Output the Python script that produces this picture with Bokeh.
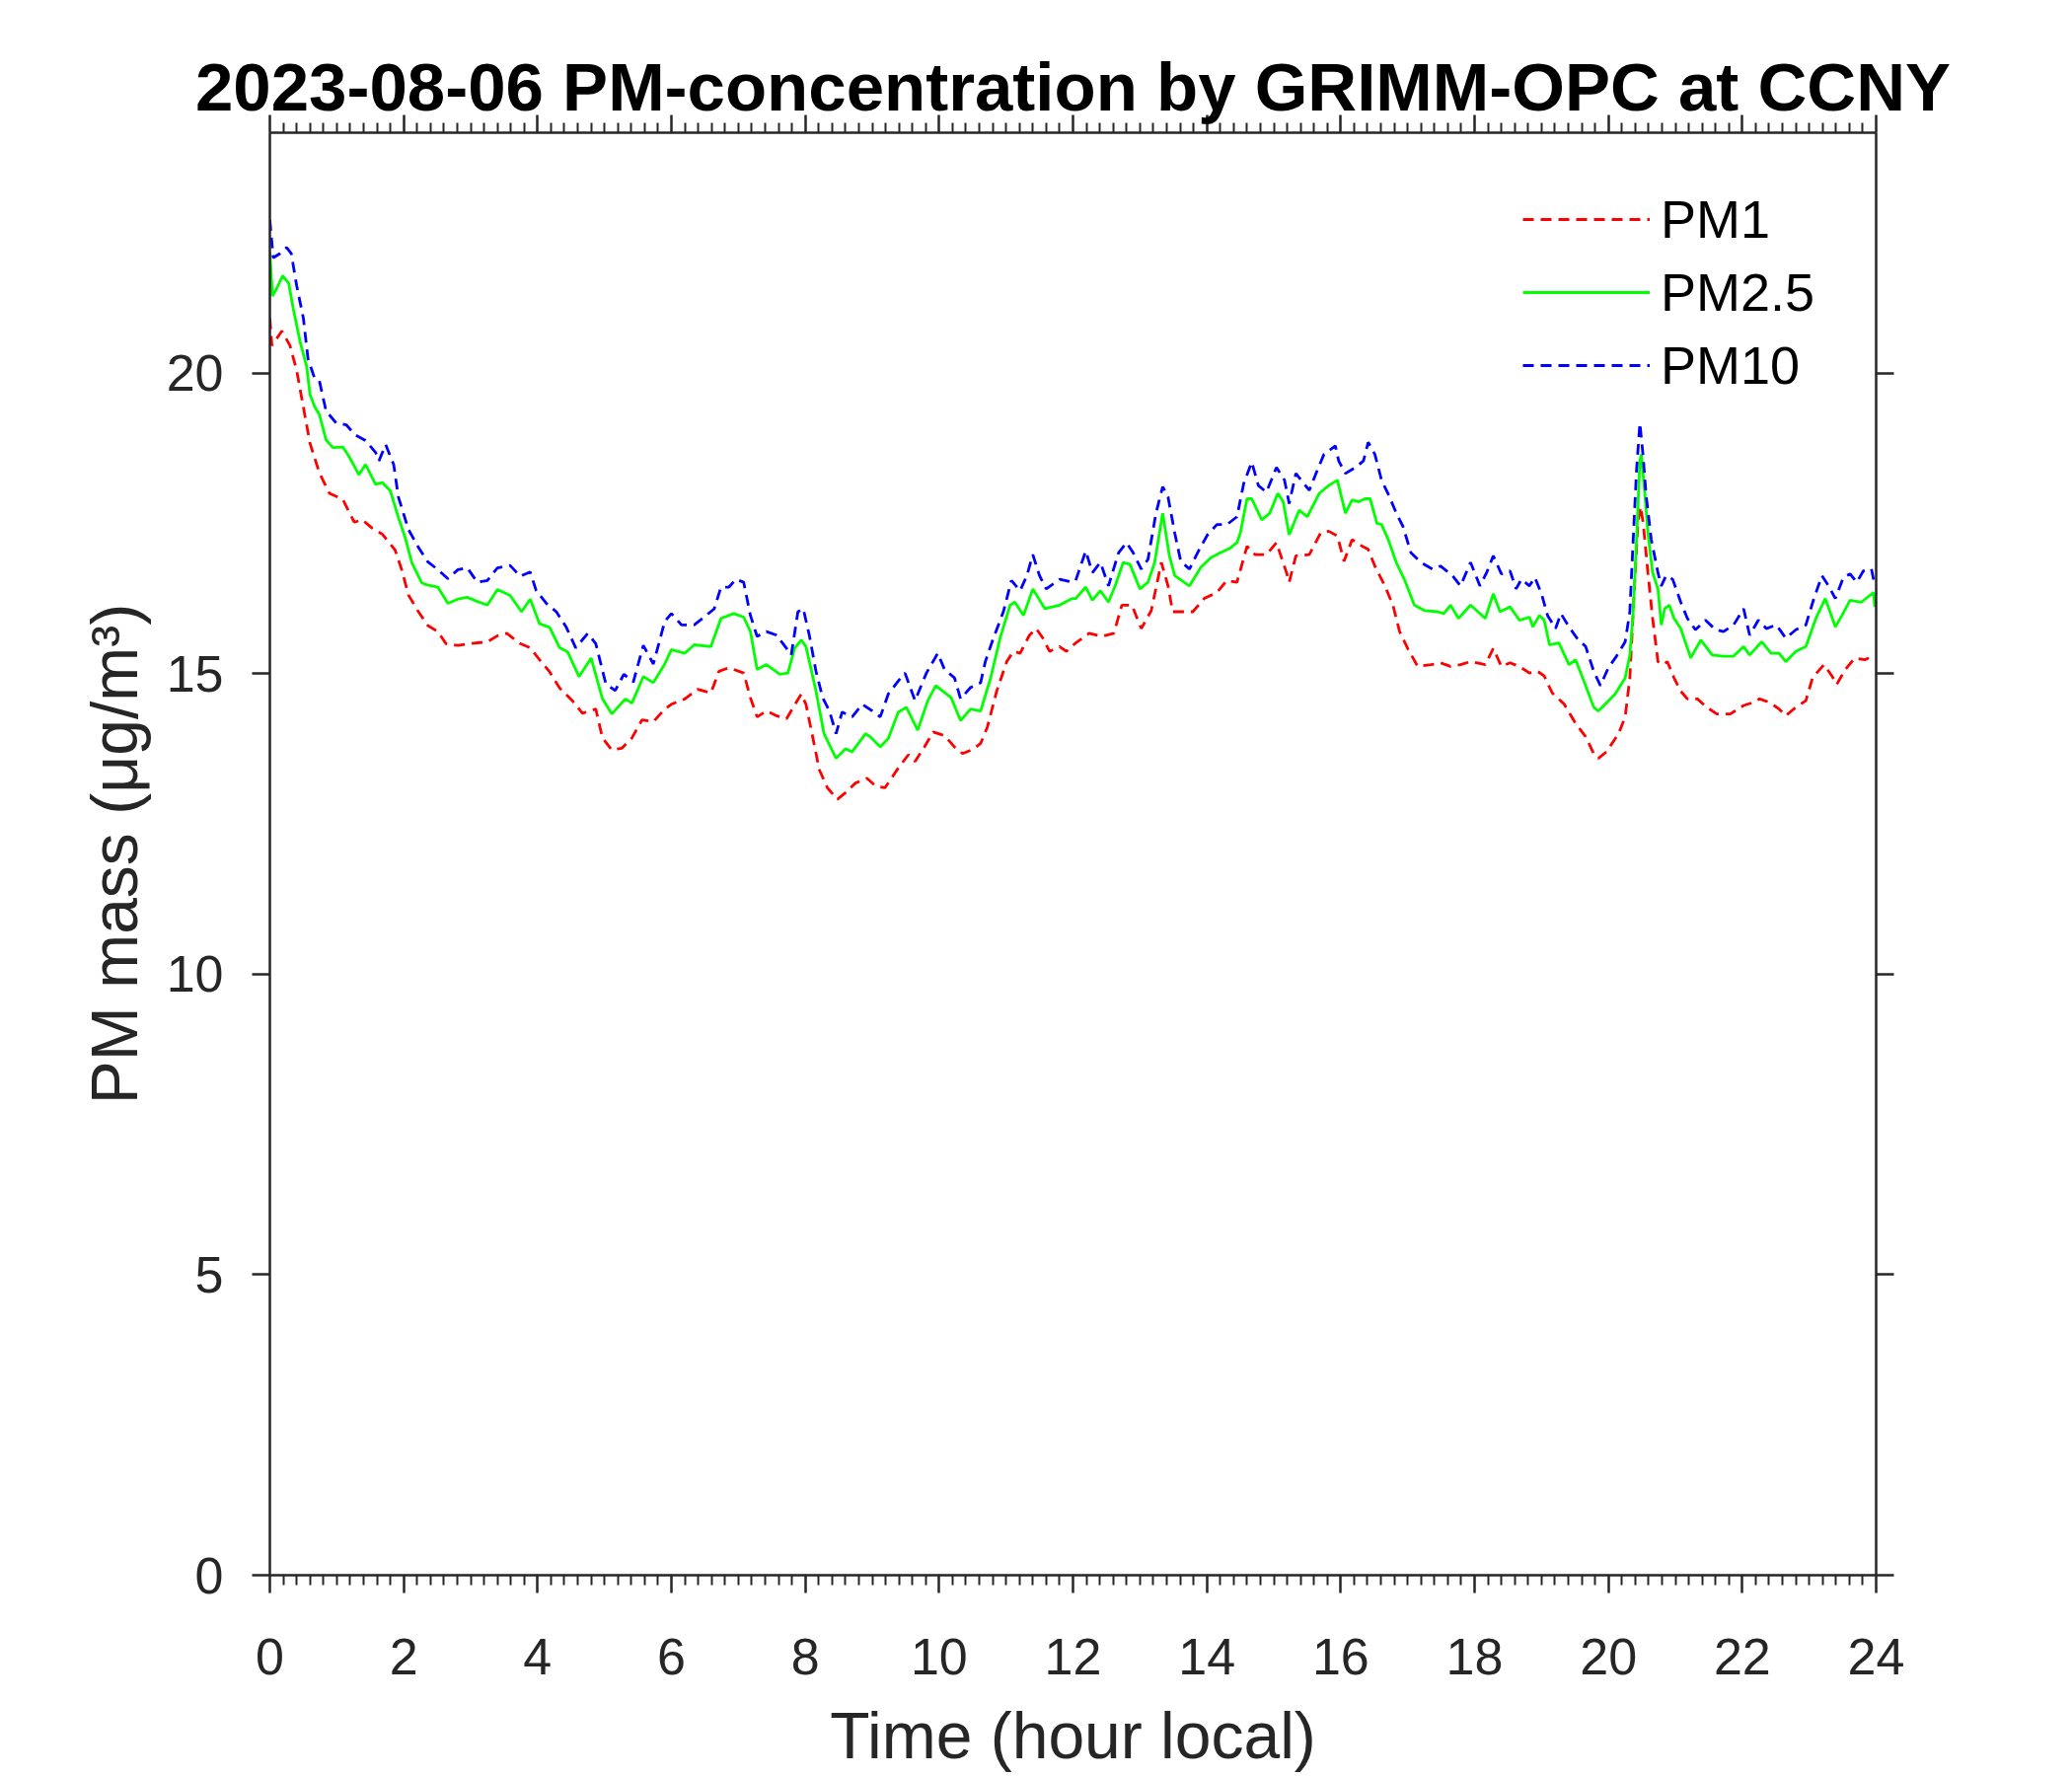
from bokeh.plotting import figure
from bokeh.models import LinearAxis, FixedTicker, Range1d, Legend, LegendItem
from bokeh.embed import file_html
from bokeh.resources import INLINE

# ---------------- data ----------------
time_pm1 = [0.0, 0.03, 0.18, 0.3, 0.4, 0.5, 0.6, 0.74, 0.89, 1.09, 1.26, 1.38, 1.53, 1.68, 1.87, 1.97,
            2.07, 2.22, 2.36, 2.51, 2.63, 2.81, 3.0, 3.25, 3.4, 3.54, 3.74, 3.89, 4.03, 4.18, 4.33,
            4.52, 4.67, 4.87, 4.97, 5.11, 5.26, 5.41, 5.56, 5.73, 5.9,
            6.0, 6.2, 6.39, 6.59, 6.71, 6.86, 7.08, 7.18, 7.28, 7.42, 7.57, 7.72, 7.82, 7.94, 8.01,
            8.11, 8.21, 8.33, 8.48, 8.6, 8.75, 8.92, 9.05, 9.19, 9.39, 9.54, 9.64, 9.78, 9.91, 10.08,
            10.23, 10.35, 10.52, 10.62, 10.72, 10.86, 11.01, 11.11, 11.21, 11.35, 11.45, 11.55, 11.65,
            11.8, 11.9,
            12.04, 12.24, 12.43, 12.61, 12.73, 12.88, 13.02, 13.17, 13.32, 13.42, 13.49, 13.64, 13.79,
            13.96, 14.15, 14.3, 14.45, 14.6, 14.72, 14.89, 15.04, 15.19, 15.23, 15.33, 15.53, 15.7,
            15.82, 15.95, 16.05, 16.17, 16.32, 16.41, 16.51, 16.66, 16.78, 16.88, 17.0, 17.15, 17.35,
            17.49, 17.64, 17.79, 17.94,
            18.16, 18.28, 18.4, 18.53, 18.67, 18.82, 18.94, 19.04, 19.16, 19.34, 19.51, 19.66, 19.78,
            19.85, 19.97, 20.15, 20.25, 20.32, 20.37, 20.44, 20.48, 20.52, 20.59, 20.66, 20.74, 20.81,
            20.88, 20.98, 21.08, 21.18, 21.33, 21.47, 21.62, 21.82, 22.02, 22.16, 22.26, 22.41, 22.55,
            22.65, 22.8, 22.95, 23.05, 23.22, 23.34, 23.41, 23.54, 23.68, 23.83, 23.98]
pm1 = [20.91, 20.46, 20.7, 20.46, 20.05, 19.44, 18.83, 18.34, 18.0, 17.9, 17.52, 17.56, 17.42, 17.32,
       17.06, 16.73, 16.31, 16.03, 15.8, 15.7, 15.5, 15.47, 15.5, 15.53, 15.63, 15.67, 15.5, 15.43,
       15.23, 15.03, 14.76, 14.55, 14.34, 14.41, 13.93, 13.73, 13.76, 13.93, 14.23, 14.2, 14.41,
       14.49, 14.58, 14.74, 14.68, 15.04, 15.1, 15.01, 14.6, 14.28, 14.38, 14.3, 14.25, 14.44, 14.66,
       14.49, 13.95, 13.4, 13.1, 12.91, 13.02, 13.18, 13.26, 13.13, 13.1, 13.43, 13.65, 13.54, 13.78,
       14.03, 13.97, 13.78, 13.67, 13.75, 13.84, 14.11, 14.71, 15.2, 15.37, 15.34, 15.64, 15.75, 15.59,
       15.37, 15.45, 15.37,
       15.51, 15.67, 15.62, 15.67, 16.14, 16.14, 15.75, 16.05, 16.85, 16.46, 16.03, 16.03, 16.03,
       16.25, 16.35, 16.55, 16.52, 17.12, 16.98, 16.98, 17.18, 16.68, 16.52, 16.96, 16.98, 17.34,
       17.37, 17.29, 16.87, 17.23, 17.12, 17.07, 16.79, 16.46, 16.14, 15.7, 15.42, 15.12, 15.15,
       15.18, 15.12, 15.15, 15.2,
       15.15, 15.42, 15.12, 15.18, 15.12, 15.01, 15.04, 14.96, 14.68, 14.49, 14.17, 13.95, 13.67,
       13.59, 13.7, 14.0, 14.28, 14.93, 16.03, 17.5, 17.78, 17.5, 16.68, 15.92, 15.2, 15.15,
       15.2, 14.93, 14.71, 14.58, 14.58, 14.44, 14.33, 14.33, 14.47, 14.52, 14.58, 14.52, 14.41,
       14.3, 14.44, 14.55, 14.93, 15.15, 14.96, 14.82, 15.07, 15.26, 15.23, 15.31]

time_pm25 = [0.0, 0.04, 0.09, 0.19, 0.28, 0.35, 0.45, 0.55, 0.6, 0.67, 0.74, 0.84, 0.94, 1.09, 1.18,
             1.33, 1.43, 1.58, 1.68, 1.8, 1.92, 2.02, 2.12, 2.27, 2.34, 2.51, 2.66, 2.81, 2.95, 3.1,
             3.25, 3.4, 3.59, 3.76, 3.89, 4.03, 4.18, 4.33, 4.45, 4.62, 4.8, 4.97, 5.11, 5.31, 5.41,
             5.58, 5.73, 5.9,
             6.0, 6.2, 6.34, 6.59, 6.74, 6.93, 7.08, 7.18, 7.28, 7.42, 7.62, 7.74, 7.84, 7.94, 8.01,
             8.16, 8.28, 8.46, 8.6, 8.7, 8.9, 8.97, 9.12, 9.24, 9.39, 9.51, 9.68, 9.83, 9.95, 10.18,
             10.32, 10.47, 10.62, 10.77, 10.91, 11.06, 11.13, 11.26, 11.4, 11.58, 11.8, 11.99,
             12.04, 12.19, 12.29, 12.41, 12.53, 12.63, 12.75, 12.85, 13.0, 13.12, 13.22, 13.34, 13.44,
             13.52, 13.66, 13.74, 13.91, 14.06, 14.2, 14.35, 14.45, 14.5, 14.6, 14.67, 14.82, 14.94,
             15.06, 15.14, 15.23, 15.38, 15.5, 15.68, 15.82, 15.95, 16.07, 16.17, 16.27, 16.36, 16.44,
             16.54, 16.61, 16.71, 16.83, 16.95, 17.1, 17.25, 17.45, 17.54, 17.64, 17.76, 17.94,
             18.16, 18.28, 18.38, 18.53, 18.67, 18.82, 18.87, 18.97, 19.04, 19.12, 19.26, 19.41, 19.51,
             19.66, 19.78, 19.85, 19.95, 20.1, 20.25, 20.32, 20.37, 20.42, 20.47, 20.49, 20.54, 20.59,
             20.66, 20.74, 20.79, 20.84, 20.91, 20.98, 21.08, 21.23, 21.38, 21.55, 21.72, 21.87, 22.02,
             22.11, 22.29, 22.43, 22.55, 22.65, 22.8, 22.95, 23.1, 23.24, 23.39, 23.49, 23.61, 23.78,
             23.96, 23.98]
pm25 = [22.0, 21.28, 21.38, 21.62, 21.5, 21.07, 20.53, 20.11, 19.64, 19.44, 19.31, 18.89, 18.76, 18.77,
        18.62, 18.31, 18.48, 18.15, 18.18, 18.04, 17.6, 17.27, 16.85, 16.51, 16.48, 16.44, 16.17, 16.24,
        16.27, 16.2, 16.14, 16.4, 16.3, 16.03, 16.24, 15.83, 15.77, 15.43, 15.36, 14.95, 15.26, 14.58,
        14.33, 14.58, 14.51, 14.95, 14.85, 15.16,
        15.4, 15.34, 15.48, 15.45, 15.92, 16.0, 15.94, 15.7, 15.07, 15.15, 14.99, 15.01, 15.42, 15.56,
        15.45, 14.71, 14.0, 13.59, 13.75, 13.7, 14.0, 13.95, 13.78, 13.92, 14.36, 14.44, 14.06, 14.55,
        14.8, 14.6, 14.22, 14.41, 14.38, 14.93, 15.59, 16.14, 16.19, 15.97, 16.41, 16.08, 16.14, 16.25,
        16.25, 16.44, 16.22, 16.38, 16.19, 16.46, 16.85, 16.82, 16.41, 16.52, 16.85, 17.67, 16.96,
        16.63, 16.52, 16.46, 16.77, 16.93, 17.01, 17.09, 17.18, 17.34, 17.91, 17.91, 17.56, 17.67,
        18.0, 17.86, 17.31, 17.72, 17.61, 18.0, 18.13, 18.22, 17.67, 17.89, 17.86, 17.91, 17.91,
        17.5, 17.48, 17.23, 16.85, 16.57, 16.14, 16.05, 16.03, 16.0, 16.14, 15.92, 16.14,
        15.92, 16.33, 16.03, 16.11, 15.89, 15.94, 15.78, 15.97, 15.89, 15.48, 15.51, 15.15, 15.23,
        14.8, 14.44, 14.38, 14.49, 14.66, 14.93, 15.31, 16.03, 17.23, 18.54, 18.65, 18.05, 17.34,
        16.68, 16.41, 15.81, 16.08, 16.14, 15.92, 15.75, 15.26, 15.56, 15.31, 15.29, 15.29, 15.45,
        15.31, 15.53, 15.34, 15.34, 15.2, 15.37, 15.45, 15.92, 16.25, 15.78, 15.97, 16.22, 16.19,
        16.35, 16.11]

time_pm10 = [0.0, 0.05, 0.15, 0.25, 0.32, 0.4, 0.5, 0.57, 0.67, 0.74, 0.84, 0.99, 1.14, 1.28, 1.43,
             1.58, 1.63, 1.73, 1.85, 1.92, 2.07, 2.22, 2.36, 2.51, 2.66, 2.81, 2.95, 3.1, 3.25, 3.4,
             3.59, 3.74, 3.89, 3.98, 4.13, 4.28, 4.43, 4.57, 4.75, 4.87, 5.02, 5.16, 5.29, 5.43, 5.58,
             5.73, 5.9,
             6.0, 6.15, 6.34, 6.49, 6.64, 6.74, 6.86, 6.96, 7.08, 7.18, 7.28, 7.42, 7.57, 7.72, 7.79,
             7.89, 7.97, 8.06, 8.16, 8.26, 8.36, 8.46, 8.55, 8.7, 8.85, 9.0, 9.12, 9.24, 9.39, 9.49,
             9.64, 9.81, 9.98, 10.08, 10.23, 10.32, 10.47, 10.62, 10.69, 10.81, 10.96, 11.08, 11.21,
             11.31, 11.4, 11.5, 11.6, 11.8, 11.99,
             12.04, 12.19, 12.29, 12.41, 12.53, 12.68, 12.8, 12.9, 13.02, 13.12, 13.24, 13.34, 13.42,
             13.52, 13.61, 13.74, 13.86, 14.01, 14.15, 14.3, 14.45, 14.55, 14.67, 14.77, 14.89, 15.04,
             15.16, 15.23, 15.33, 15.53, 15.63, 15.75, 15.92, 15.97, 16.07, 16.22, 16.34, 16.41, 16.51,
             16.61, 16.73, 16.83, 16.93, 17.05, 17.2, 17.37, 17.49, 17.67, 17.79, 17.94, 18.08,
             18.18, 18.28, 18.4, 18.53, 18.62, 18.7, 18.82, 18.9, 19.0, 19.09, 19.21, 19.29, 19.41,
             19.53, 19.66, 19.78, 19.88, 20.0, 20.12, 20.25, 20.32, 20.37, 20.42, 20.47, 20.52, 20.56,
             20.64, 20.74, 20.79, 20.86, 20.96, 21.08, 21.18, 21.3, 21.45, 21.6, 21.72, 21.87, 22.02,
             22.11, 22.24, 22.36, 22.51, 22.65, 22.8, 22.95, 23.07, 23.19, 23.29, 23.39, 23.51, 23.61,
             23.71, 23.81, 23.93, 23.98]
pm10 = [22.55, 21.92, 21.99, 22.09, 21.99, 21.46, 20.92, 20.24, 19.91, 19.87, 19.37, 19.17, 19.14,
        18.97, 18.88, 18.68, 18.54, 18.81, 18.48, 17.94, 17.4, 17.1, 16.86, 16.73, 16.58, 16.73, 16.76,
        16.52, 16.55, 16.76, 16.8, 16.62, 16.69, 16.38, 16.17, 16.03, 15.77, 15.43, 15.67, 15.5, 14.83,
        14.72, 14.99, 14.86, 15.47, 15.16, 15.87,
        16.0, 15.81, 15.81, 15.94, 16.08, 16.44, 16.44, 16.57, 16.52, 15.97, 15.62, 15.7, 15.64, 15.42,
        15.31, 16.03, 16.08, 15.64, 15.04, 14.6, 14.38, 14.0, 14.36, 14.28, 14.49, 14.38, 14.28, 14.66,
        14.88, 15.01, 14.55, 15.01, 15.34, 15.07, 14.93, 14.58, 14.77, 14.85, 15.2, 15.59, 16.03, 16.55,
        16.38, 16.63, 16.98, 16.63, 16.41, 16.57, 16.52,
        16.55, 17.04, 16.68, 16.85, 16.46, 17.01, 17.18, 17.01, 16.74, 16.9, 17.67, 18.11, 17.94,
        17.34, 16.87, 16.74, 17.01, 17.31, 17.48, 17.48, 17.61, 18.16, 18.52, 18.13, 18.02, 18.43,
        18.22, 17.83, 18.33, 18.05, 18.33, 18.65, 18.79, 18.54, 18.33, 18.43, 18.54, 18.85, 18.65,
        18.22, 17.94, 17.67, 17.45, 17.01, 16.85, 16.74, 16.79, 16.63, 16.46, 16.85, 16.46,
        16.68, 16.96, 16.66, 16.71, 16.41, 16.57, 16.46, 16.6, 16.33, 15.97, 15.75, 16.0, 15.78,
        15.59, 15.45, 15.04, 14.8, 15.1, 15.29, 15.53, 16.03, 17.23, 18.38, 19.17, 18.6, 18.0,
        17.23, 16.68, 16.46, 16.63, 16.57, 16.19, 15.92, 15.73, 15.89, 15.73, 15.7, 15.81, 16.08,
        15.64, 15.89, 15.75, 15.81, 15.59, 15.73, 15.81, 16.25, 16.63, 16.46, 16.25, 16.6, 16.66,
        16.52, 16.71, 16.74, 16.46]

series_names = ["PM1", "PM2.5", "PM10"]
series_colors = ["#ff0000", "#00ff00", "#0000ff"]

x_major = list(range(0, 25, 2))
x_minor = [round(i * 0.2, 1) for i in range(0, 121) if i % 10 != 0]
y_major = [0, 5, 10, 15, 20]

title_text = "2023-08-06 PM-concentration by GRIMM-OPC at CCNY"
x_label = "Time (hour local)"
y_label = "PM mass (\u03bcg/m\u00b3)"

# ---------------- figure ----------------
FONT = "Liberation Sans"
AX = "#262626"

p = figure(frame_width=1628, frame_height=1462, output_backend="svg", toolbar_location=None,
           x_range=Range1d(0, 24), y_range=Range1d(0, 24),
           min_border_left=273, min_border_right=183, min_border_top=134, min_border_bottom=150,
           title=title_text, x_axis_label=x_label, y_axis_label=y_label)
p.background_fill_color = "white"
p.border_fill_color = "white"
p.outline_line_color = None
p.xgrid.visible = False
p.ygrid.visible = False

p.title.text_font = FONT
p.title.text_font_size = "69px"
p.title.text_font_style = "bold"
p.title.text_color = "black"
p.title.align = "center"
p.title.standoff = -20


def style_axis(ax, ticks, minor, labels=True):
    ax.ticker = FixedTicker(ticks=ticks, minor_ticks=minor)
    ax.axis_line_color = AX
    ax.axis_line_width = 2.5
    ax.major_tick_line_color = AX
    ax.major_tick_line_width = 2.5
    ax.major_tick_out = 18
    ax.major_tick_in = 0
    if minor:
        ax.minor_tick_line_color = AX
        ax.minor_tick_line_width = 2
        ax.minor_tick_out = 10
        ax.minor_tick_in = 0
    else:
        ax.minor_tick_line_color = None
    ax.major_label_text_font = FONT
    ax.major_label_text_color = AX
    if labels:
        ax.major_label_text_font_size = "52px"
    else:
        ax.major_label_text_font_size = "0px"
        ax.major_label_overrides = {t: "" for t in ticks}
        ax.major_label_standoff = 0


style_axis(p.xaxis[0], x_major, x_minor)
p.xaxis[0].major_label_standoff = 46
p.xaxis[0].axis_label_text_font = FONT
p.xaxis[0].axis_label_text_font_size = "66px"
p.xaxis[0].axis_label_text_font_style = "normal"
p.xaxis[0].axis_label_text_color = AX
p.xaxis[0].axis_label_standoff = 22

style_axis(p.yaxis[0], y_major, [])
p.yaxis[0].major_label_standoff = 29
p.yaxis[0].axis_label_text_font = FONT
p.yaxis[0].axis_label_text_font_size = "66px"
p.yaxis[0].axis_label_text_font_style = "normal"
p.yaxis[0].axis_label_text_color = AX
p.yaxis[0].axis_label_standoff = 13

top_axis = LinearAxis()
style_axis(top_axis, x_major, x_minor, labels=False)
p.add_layout(top_axis, "above")

right_axis = LinearAxis()
style_axis(right_axis, y_major, [], labels=False)
p.add_layout(right_axis, "right")

# ---------------- lines ----------------
r1 = p.line(time_pm1, pm1, line_color=series_colors[0], line_width=2.8, line_dash="11 7")
r2 = p.line(time_pm25, pm25, line_color=series_colors[1], line_width=2.8)
r3 = p.line(time_pm10, pm10, line_color=series_colors[2], line_width=2.8, line_dash="11 7")

legend = Legend(items=[LegendItem(label=series_names[0], renderers=[r1]),
                       LegendItem(label=series_names[1], renderers=[r2]),
                       LegendItem(label=series_names[2], renderers=[r3])],
                location=(1270, 1195))
legend.margin = 0
legend.padding = 0
legend.border_line_color = None
legend.background_fill_alpha = 0
legend.glyph_width = 129
legend.glyph_height = 52
legend.label_height = 52
legend.spacing = 12
legend.label_standoff = 11
legend.label_text_font = FONT
legend.label_text_font_size = "54px"
legend.label_text_color = "black"
legend.label_text_baseline = "middle"
p.add_layout(legend, "center")

open("out.html", "w").write(file_html(p, INLINE))
